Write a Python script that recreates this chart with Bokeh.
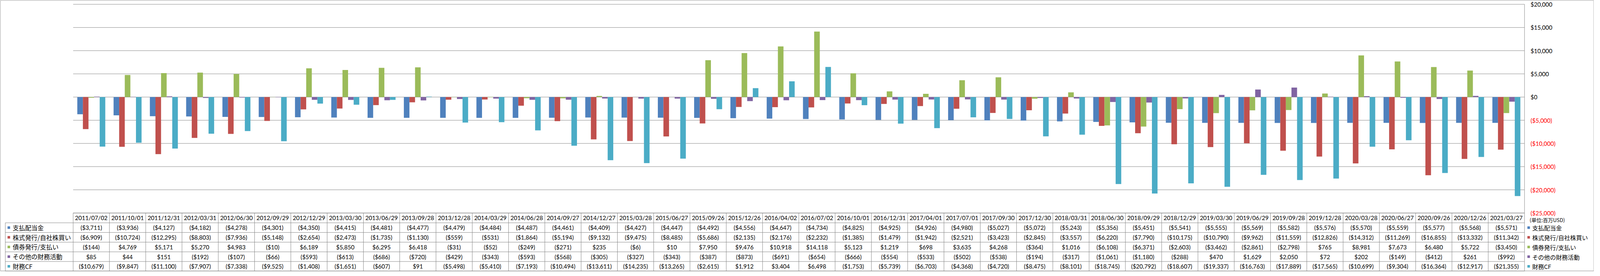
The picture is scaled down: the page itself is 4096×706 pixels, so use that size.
import numpy as np
from bokeh.plotting import figure
from bokeh.models import Range1d
from bokeh.core.properties import value
from bokeh.embed import file_html
from bokeh.resources import INLINE

# ---------------- data ----------------
dates = ["2011/07/02", "2011/10/01", "2011/12/31", "2012/03/31", "2012/06/30", "2012/09/29",
         "2012/12/29", "2013/03/30", "2013/06/29", "2013/09/28", "2013/12/28", "2014/03/29",
         "2014/06/28", "2014/09/27", "2014/12/27", "2015/03/28", "2015/06/27", "2015/09/26",
         "2015/12/26", "2016/04/02", "2016/07/02", "2016/10/01", "2016/12/31", "2017/04/01",
         "2017/07/01", "2017/09/30", "2017/12/30", "2018/03/31", "2018/06/30", "2018/09/29",
         "2018/12/29", "2019/03/30", "2019/06/29", "2019/09/28", "2019/12/28", "2020/03/28",
         "2020/06/27", "2020/09/26", "2020/12/26", "2021/03/27"]

dividends = [-3711, -3936, -4127, -4182, -4278, -4301, -4350, -4415, -4481, -4477,
             -4479, -4484, -4487, -4461, -4409, -4427, -4447, -4492, -4556, -4647,
             -4734, -4825, -4925, -4926, -4980, -5027, -5072, -5243, -5356, -5451,
             -5541, -5555, -5569, -5582, -5576, -5570, -5559, -5577, -5568, -5571]
stock = [-6909, -10724, -12295, -8803, -7936, -5148, -2654, -2473, -1735, -1130,
         -559, -531, -1864, -5194, -9132, -9475, -8485, -5686, -2135, -2176,
         -2232, -1385, -1479, -1942, -2521, -3423, -2845, -3557, -6220, -7790,
         -10175, -10790, -9962, -11559, -12826, -14312, -11269, -16855, -13332, -11342]
debt = [-144, 4769, 5171, 5270, 4983, -10, 6189, 5850, 6295, 6418,
        -31, -52, -249, -271, 235, -6, 10, 7950, 9476, 10918,
        14118, 5123, 1219, 698, 3635, 4268, -364, 1016, -6108, -6371,
        -2603, -3462, -2861, -2798, 765, 8981, 7673, 6480, 5722, -3450]
other = [85, 44, 151, -192, -107, -66, -593, -613, -686, -720,
         -429, -343, -593, -568, -305, -327, -343, -387, -873, -691,
         -654, -666, -554, -533, -502, -538, -194, -317, -1061, -1180,
         -288, 470, 1629, 2050, 72, 202, -149, -412, 261, -992]
fin_cf = [-10679, -9847, -11100, -7907, -7338, -9525, -1408, -1651, -607, 91,
          -5498, -5410, -7193, -10494, -13611, -14235, -13265, -2615, 1912, 3404,
          6498, -1753, -5739, -6703, -4368, -4720, -8475, -8101, -18745, -20792,
          -18607, -19337, -16763, -17889, -17565, -10699, -9304, -16364, -12917, -21355]

series_names = ["支払配当金", "株式発行/自社株買い", "債券発行/支払い", "その他の財務活動", "財務CF"]
series_values = [dividends, stock, debt, other, fin_cf]
y_ticks = [20000, 15000, 10000, 5000, 0, -5000, -10000, -15000, -20000, -25000]
unit_label = "(単位:百万USD)"

# ---------------- style / layout ----------------
colors = ["#4F81BD", "#C0504D", "#9BBB59", "#8064A2", "#4BACC6"]
GRID = "#868686"
REF_W, REF_H = 4981, 858
W, H = 4080, 694
sx, sy = W / REF_W, H / REF_H
fs = (sx + sy) / 2

PL, PR, PT, PB = 228, 4764, 13, 673      # plot area in reference px
TL = 16                                  # table left edge
HDR_B = 704                              # header row bottom
TB = 857                                 # table bottom
ROW_H = (TB - HDR_B) / 5

NUM_FONT = value("Lato")
JP_FONT = value("Noto Sans CJK JP")

def money(v):
    s = f"${abs(v):,}"
    return f"({s})" if v < 0 else s

n = len(dates)
unit = (PR - PL) / n
ymin, ymax = min(y_ticks), max(y_ticks)
k = (ymax - ymin) / (PB - PT)

p = figure(width=W, height=H,
           x_range=Range1d(-PL / unit, n + (REF_W - PR) / unit),
           y_range=Range1d(ymin - (REF_H - PB) * k, ymax + PT * k),
           output_backend="svg", toolbar_location=None,
           x_axis_location=None, y_axis_location=None,
           min_border=0, outline_line_color=None)
p.min_border_left = p.min_border_right = p.min_border_top = p.min_border_bottom = 0
p.background_fill_color = "white"
p.border_fill_color = "white"
p.grid.visible = False
p.extra_x_ranges = {"px": Range1d(0, REF_W)}
p.extra_y_ranges = {"px": Range1d(REF_H, 0)}

# gridlines (value space)
p.segment(x0=[0] * len(y_ticks), x1=[n] * len(y_ticks), y0=y_ticks, y1=y_ticks,
          line_color=GRID, line_width=1)

# bars
bw = 17.5 / unit
centers = np.arange(n) + 0.5
for j, (vals, col) in enumerate(zip(series_values, colors)):
    p.vbar(x=centers + (j - 2) * bw, top=vals, bottom=0, width=bw,
           fill_color=col, line_color=None)

# right axis line + tick labels
p.segment(x0=[n], x1=[n], y0=[ymin], y1=[ymax], line_color=GRID, line_width=1)
p.text(x=[PR + 19] * len(y_ticks), y=y_ticks, text=[money(t) for t in y_ticks],
       x_range_name="px",
       text_color=["#000000" if t >= 0 else "#FF0000" for t in y_ticks],
       text_font=NUM_FONT, text_font_size=value(f"{20 * fs * 0.92:.1f}px"),
       text_align="left", text_baseline="middle")

# ---------------- data table ----------------
row_bounds = [HDR_B + r * ROW_H for r in range(6)]
row_centers = [HDR_B + (r + 0.5) * ROW_H for r in range(5)]
col_bounds = [PL + i * unit for i in range(n + 1)]

# horizontal lines
p.segment(x0=[PL], x1=[PR], y0=[PB], y1=[PB], x_range_name="px", y_range_name="px",
          line_color=GRID, line_width=1)
p.segment(x0=[TL] * 6, x1=[PR] * 6, y0=row_bounds, y1=row_bounds,
          x_range_name="px", y_range_name="px", line_color=GRID, line_width=1)
# vertical lines
p.segment(x0=col_bounds, x1=col_bounds, y0=[PB] * (n + 1), y1=[TB] * (n + 1),
          x_range_name="px", y_range_name="px", line_color=GRID, line_width=1)
p.segment(x0=[TL], x1=[TL], y0=[HDR_B], y1=[TB],
          x_range_name="px", y_range_name="px", line_color=GRID, line_width=1)

num_size = value(f"{20 * fs * 0.92:.1f}px")
# header (dates)
p.text(x=centers, y=[(PB + HDR_B) / 2] * n, text=dates, y_range_name="px",
       text_font=NUM_FONT, text_font_size=num_size, text_color="#000000",
       text_align="center", text_baseline="middle")
# values
for r, vals in enumerate(series_values):
    p.text(x=centers, y=[row_centers[r]] * n, text=[money(v) for v in vals],
           y_range_name="px", text_font=NUM_FONT, text_font_size=num_size,
           text_color="#000000", text_align="center", text_baseline="middle")

# legend keys inside table
p.rect(x=[27] * 5, y=row_centers, width=8, height=8, fill_color=colors, line_color=None,
       x_range_name="px", y_range_name="px")
p.text(x=[39] * 5, y=row_centers, text=series_names, x_range_name="px", y_range_name="px",
       text_font=JP_FONT, text_font_size=value(f"{19.5 * fs:.1f}px"), text_color="#000000",
       text_align="left", text_baseline="middle")

# right-hand legend
p.rect(x=[4777] * 5, y=row_centers, width=8, height=8, fill_color=colors, line_color=None,
       x_range_name="px", y_range_name="px")
p.text(x=[4788] * 5, y=row_centers, text=series_names, x_range_name="px", y_range_name="px",
       text_font=JP_FONT, text_font_size=value(f"{18.7 * fs:.1f}px"), text_color="#000000",
       text_align="left", text_baseline="middle")
p.text(x=[4780], y=[695], text=[unit_label], x_range_name="px", y_range_name="px",
       text_font=JP_FONT, text_font_size=value(f"{16 * fs:.1f}px"), text_color="#000000",
       text_align="left", text_baseline="middle")

# outer chart border
p.quad(left=[0.5 / sx], right=[REF_W - 0.5 / sx], top=[0.5 / sy], bottom=[REF_H - 1.5 / sy],
       x_range_name="px", y_range_name="px", fill_color=None, line_color=GRID, line_width=1)

open("out.html", "w").write(file_html(p, INLINE))
